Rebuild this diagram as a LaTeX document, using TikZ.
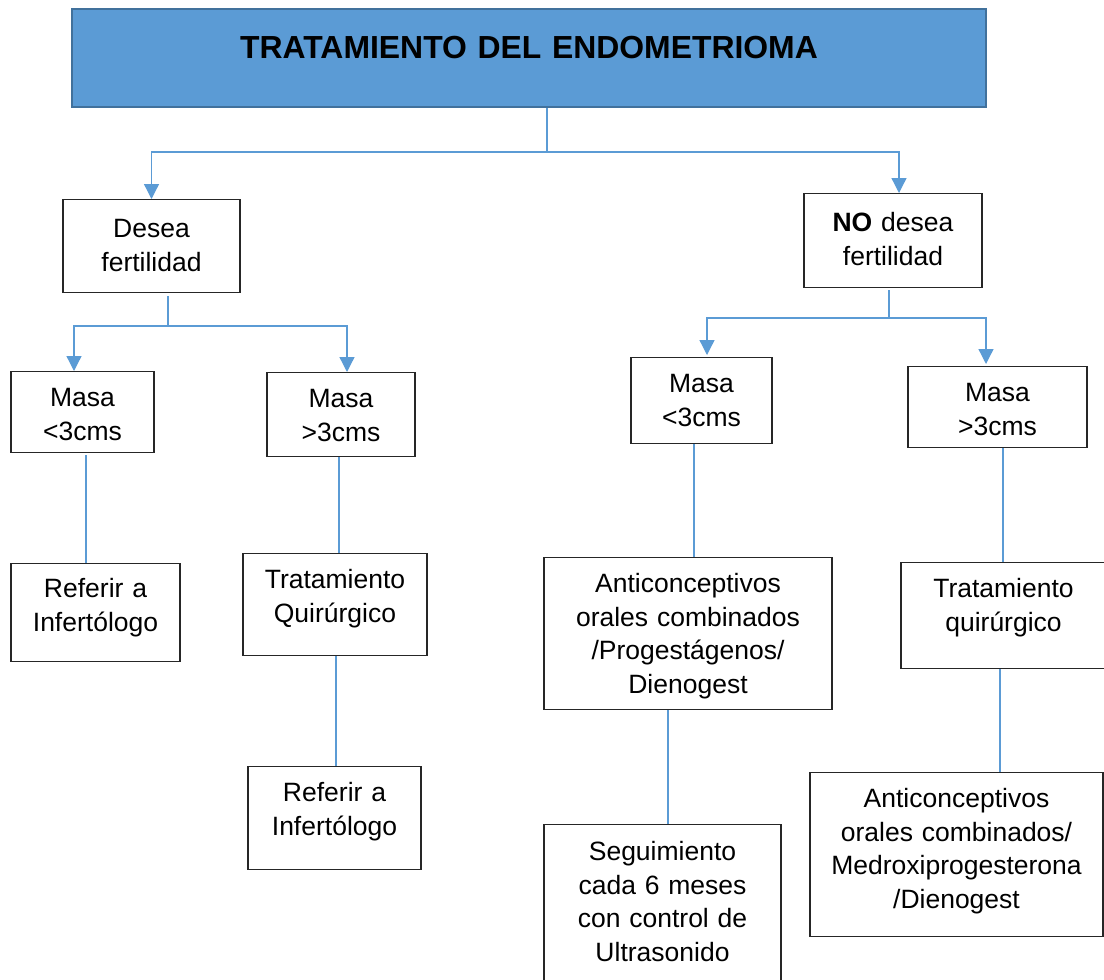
\documentclass[tikz,border=0pt]{standalone}
\usepackage{fontspec}
\setmainfont{Liberation Sans}
\usetikzlibrary{arrows.meta}
\definecolor{linkblue}{HTML}{5B9BD5}
\definecolor{titleedge}{HTML}{41719C}
\begin{document}
\begin{tikzpicture}[x=1pt,y=-1pt,
        box/.style={draw=black!85,line width=1.3pt,anchor=north,align=center,inner sep=0pt,
            font=\fontsize{26.5}{33.5}\selectfont,text height=35pt},
        conn/.style={draw=linkblue,line width=1.3pt},
        arr/.style={conn,-{Triangle[width=15pt,length=15pt]}}]
                \useasboundingbox (0,0) rectangle (1104,980);
                %% title
                \node[box,fill=linkblue,draw=titleedge,line width=2pt,font=\bfseries\fontsize{31.9}{38}\selectfont,
                    text width=914pt,text height=49pt,text depth=49pt] (title) at (529,8) {TRATAMIENTO DEL ENDOMETRIOMA};
                %% first level
                \node[box,text width=177pt,text height=38pt,text depth=55pt] (desea) at (151.5,199) {Desea\\fertilidad};
                \node[box,text width=178pt,text height=38pt,text depth=56pt] (nodesea) at (893,193) {\textbf{NO} desea\\fertilidad};
                %% size of mass
                \node[box,text width=143pt,text depth=46pt] (masaLa) at (82.5,371) {Masa\\<3cms};
                \node[box,text width=148pt,text depth=49pt] (masaLb) at (341,372) {Masa\\>3cms};
                \node[box,text width=141pt,text depth=51pt] (masaRa) at (701.5,357) {Masa\\<3cms};
                \node[box,text width=179pt,text depth=46pt] (masaRb) at (997.5,366) {Masa\\>3cms};
                %% treatments
                \node[box,text width=169pt,text height=34pt,text depth=64pt] (refL) at (95.5,563) {Referir a\\Infertólogo};
                \node[box,text width=184pt,text depth=67pt] (tratL) at (335,553) {Tratamiento\\Quirúrgico};
                \node[box,text width=173pt,text depth=68pt] (refR) at (334.5,766) {Referir a\\Infertólogo};
                \node[box,text width=288pt,text depth=117pt] (anticA) at (688,557) {Anticonceptivos\\orales combinados\\/Progestágenos/\\Dienogest};
                \node[box,text width=237pt,text height=36pt,text depth=135pt] (segui) at (662.5,824) {Seguimiento\\cada 6 meses\\con control de\\Ultrasonido};
                \node[box,text width=205pt,text depth=71pt] (tratR) at (1003.5,562) {Tratamiento\\quirúrgico};
                \node[box,text width=293pt,text depth=129pt] (anticB) at (956.5,772) {Anticonceptivos\\orales combinados/\\Medroxiprogesterona\\/Dienogest};
                %% branches
                \coordinate (splitA) at (547,152);
                \coordinate (splitB) at (168,326);
                \coordinate (splitC) at (889,318);
                \draw[conn] ([xshift=18pt]title.south) -- (splitA);
                \draw[arr] (splitA) -| (desea.north);
                \draw[arr] (splitA) -| ([xshift=6pt]nodesea.north);
                \draw[conn] ([xshift=16.5pt,yshift=-3pt]desea.south) -- (splitB);
                \draw[arr] (splitB) -| ([xshift=-8.5pt]masaLa.north);
                \draw[arr] (splitB) -| ([xshift=6pt]masaLb.north);
                \draw[conn] ([xshift=-4pt,yshift=-2pt]nodesea.south) -- (splitC);
                \draw[arr] (splitC) -| ([xshift=5.5pt,yshift=2pt]masaRa.north);
                \draw[arr] (splitC) -| ([xshift=-11.5pt,yshift=2pt]masaRb.north);
                %% links
                \draw[conn] ([xshift=3.5pt,yshift=-2pt]masaLa.south) -- ([xshift=-9.5pt]refL.north);
                \draw[conn] ([xshift=-2pt]masaLb.south) -- ([xshift=4pt]tratL.north);
                \draw[conn] ([xshift=1pt]tratL.south) -- ([xshift=1.5pt]refR.north);
                \draw[conn] ([xshift=-7.5pt]masaRa.south) -- ([xshift=6pt]anticA.north);
                \draw[conn] ([xshift=-20pt]anticA.south) -- ([xshift=5.5pt]segui.north);
                \draw[conn] ([xshift=5.5pt]masaRb.south) -- ([xshift=-0.5pt]tratR.north);
                \draw[conn] ([xshift=-3.5pt]tratR.south) -- ([xshift=43.5pt]anticB.north);
            \end{tikzpicture}
\end{document}
